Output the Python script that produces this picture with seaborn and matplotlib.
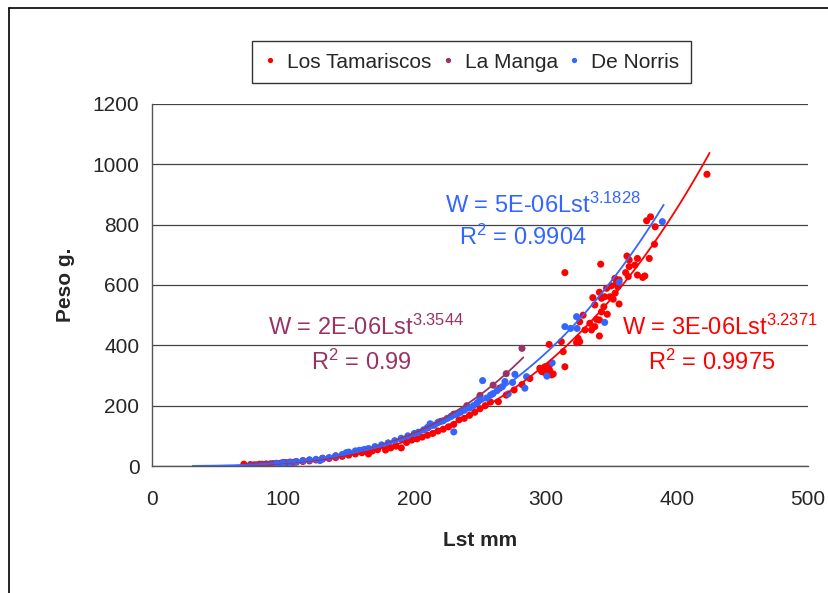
import numpy as np
import pandas as pd
import matplotlib
matplotlib.use('Agg')
import matplotlib.pyplot as plt
import seaborn as sns
from matplotlib.lines import Line2D

sns.set_style('white')
plt.rcParams['font.family'] = ['Liberation Sans', 'DejaVu Sans']
plt.rcParams['mathtext.fontset'] = 'custom'
plt.rcParams['mathtext.rm'] = 'Liberation Sans'
plt.rcParams['mathtext.default'] = 'regular'

# Los Tamariscos
tam_x = [70, 78, 82, 86, 90, 94, 98, 102, 106, 110, 115, 120, 125, 130, 135, 140, 145, 150,
         155, 160, 165, 168, 172, 178, 182, 186, 190, 194, 198, 202, 206, 210, 214, 218, 222,
         226, 230, 234, 238, 242, 246, 250, 254, 258, 264, 265, 270, 276, 282, 288,
         295.6, 297, 299.5, 300.8, 303, 304.5, 305.8, 299.5, 303, 314.7, 302.7, 312, 313.4,
         314.7, 323.6, 324.8, 326, 326, 328.6, 330, 333.7, 335, 337.5, 337.5, 338.8, 341, 341,
         341, 342, 342.6, 344.4, 345, 336, 342.6, 346.5, 347, 349, 350, 351.5, 352.8, 353,
         354, 355, 356, 356, 361, 362, 363, 363.7, 363.7, 368, 370, 370, 374, 375.6, 377, 379,
         380, 383, 383.5, 423]
tam_y = [6, 4, 6, 5, 7, 8, 9, 10, 12, 13, 15, 17, 20, 23, 25, 28, 32, 36,
         40, 44, 40, 50, 54, 53, 60, 66, 60, 78, 86, 90, 96, 102, 108, 116, 122,
         130, 138, 153, 158, 168, 178, 190, 200, 212, 213, 258, 235, 252, 270, 290,
         324, 313, 329, 313, 335, 302, 305, 309, 318, 329, 403, 412, 379,
         641, 409, 423, 412, 478, 500, 451, 473, 451, 462, 534, 486, 431, 484,
         576, 669, 511, 528, 561, 558, 556, 589, 503, 561, 597, 553, 622, 573,
         606, 594, 617, 537, 641, 696, 628, 683, 661, 666, 688, 633, 625, 630, 813, 688,
         826, 735, 793, 967]

# La Manga
manga_x = [75, 80, 84, 87, 90, 92, 95, 97, 100, 102, 105, 108, 110, 115, 120, 130, 140,
           150, 160, 170, 180, 190, 200, 210, 220, 230, 240, 250, 260, 270, 282]
manga_y = [5, 4, 6, 7, 5, 8, 9, 7, 12, 11, 13, 12, 15, 18, 20, 26, 34,
           43, 52, 63, 76, 90, 106, 126, 148, 172, 200, 234, 268, 306, 390]

# De Norris
norris_x = [95, 100, 105, 110, 115, 120, 125, 128, 130, 135, 140, 145, 148, 150, 155, 158,
            162, 165, 170, 175, 180, 185, 190, 195, 200, 203, 207, 210, 212, 215, 218, 222,
            225, 228, 230, 232, 235, 238, 242, 245, 248, 250, 252, 255, 258, 260, 263, 267,
            269, 271.5, 274.8, 276.6, 284.2, 285.5, 301, 305, 314.7, 319, 324, 323.6, 345,
            356, 389]
norris_y = [8, 10, 12, 14, 17, 20, 22, 18, 25, 28, 33, 38, 44, 46, 50, 52,
            55, 58, 64, 70, 76, 84, 92, 100, 108, 112, 120, 128, 140, 135, 145, 150,
            158, 165, 113, 172, 178, 185, 192, 200, 210, 220, 283, 225, 235, 240, 250, 263,
            280, 239, 277, 304, 258, 296, 298, 342, 462, 456, 456, 495, 476,
            609, 810]

names = ['Los Tamariscos', 'La Manga', 'De Norris']
colors = ['#FF0000', '#993366', '#3366FF']
# trendline extent (Excel shows a backward forecast for De Norris)
trend_range = {'Los Tamariscos': (70, 425), 'La Manga': (75, 283), 'De Norris': (31, 390)}
equations = ['W = 3E-06Lst$^{3.2371}$', 'W = 2E-06Lst$^{3.3544}$', 'W = 5E-06Lst$^{3.1828}$']
r2_texts = ['R$^2$ = 0.9975', 'R$^2$ = 0.99', 'R$^2$ = 0.9904']

df = pd.concat([
    pd.DataFrame({'Lst': tam_x, 'Peso': tam_y, 'Sitio': names[0]}),
    pd.DataFrame({'Lst': manga_x, 'Peso': manga_y, 'Sitio': names[1]}),
    pd.DataFrame({'Lst': norris_x, 'Peso': norris_y, 'Sitio': names[2]}),
], ignore_index=True)

fig = plt.figure(figsize=(8.29, 5.93), dpi=100)
ax = fig.add_axes([152 / 829, 1 - 466 / 593, 656 / 829, 362 / 593])

palette = dict(zip(names, colors))
sns.scatterplot(data=df, x='Lst', y='Peso', hue='Sitio', hue_order=names, palette=palette,
                s=26, edgecolor='none', ax=ax, zorder=3)

# power trendlines fitted in log-log space
trend_rows = []
for name in names:
    sub = df[df.Sitio == name]
    b, loga = np.polyfit(np.log(sub.Lst), np.log(sub.Peso), 1)
    xs = np.linspace(*trend_range[name], 200)
    trend_rows.append(pd.DataFrame({'Lst': xs, 'Peso': np.exp(loga) * xs ** b, 'Sitio': name}))
trend = pd.concat(trend_rows, ignore_index=True)
sns.lineplot(data=trend, x='Lst', y='Peso', hue='Sitio', hue_order=names, palette=palette,
             lw=1.3, legend=False, ax=ax, zorder=4)

ax.set_xlim(0, 500)
ax.set_ylim(0, 1200)
ax.set_xticks(range(0, 501, 100))
ax.set_yticks(range(0, 1201, 200))
ax.tick_params(labelsize=15, length=5, width=1, color='#555555', direction='out', pad=4)
ax.tick_params(axis='x', pad=12)
ax.grid(axis='y', color='#444444', lw=0.9)
ax.set_axisbelow(True)
for side in ['top', 'right']:
    ax.spines[side].set_visible(False)
for side in ['left', 'bottom']:
    ax.spines[side].set_color('#555555')
    ax.spines[side].set_linewidth(1)
ax.set_xlabel('Lst mm', fontsize=15, fontweight='bold', labelpad=16)
ax.set_ylabel('Peso g.', fontsize=15, fontweight='bold', labelpad=13)

# equation labels
ax.text(358, 461, equations[0], color=colors[0], fontsize=17, va='center', ha='left', clip_on=False)
ax.text(426.7, 345, r2_texts[0], color=colors[0], fontsize=17, va='center', ha='center')
ax.text(88.4, 461, equations[1], color=colors[1], fontsize=17, va='center', ha='left')
ax.text(160, 345, r2_texts[1], color=colors[1], fontsize=17, va='center', ha='center')
ax.text(223, 865, equations[2], color=colors[2], fontsize=17, va='center', ha='left')
ax.text(282.7, 759, r2_texts[2], color=colors[2], fontsize=17, va='center', ha='center')

handles, labels = ax.get_legend_handles_labels()
ax.get_legend().remove()
leg = fig.legend(handles, labels, loc='center', ncol=3, bbox_to_anchor=(471.5 / 829, 1 - 62 / 593),
                 fontsize=15, frameon=True, fancybox=False, edgecolor='black', markerscale=0.75,
                 handletextpad=0.5, columnspacing=0.5, borderpad=0.55, borderaxespad=0,
                 handlelength=0.6)
leg.get_frame().set_linewidth(1)

# outer chart border
fig.add_artist(Line2D([9 / 829, 9 / 829], [0, 1 - 8 / 593], color='black', lw=1.2))
fig.add_artist(Line2D([9 / 829, 1], [1 - 8 / 593, 1 - 8 / 593], color='black', lw=1.2))

fig.savefig('out.png', dpi=100)
